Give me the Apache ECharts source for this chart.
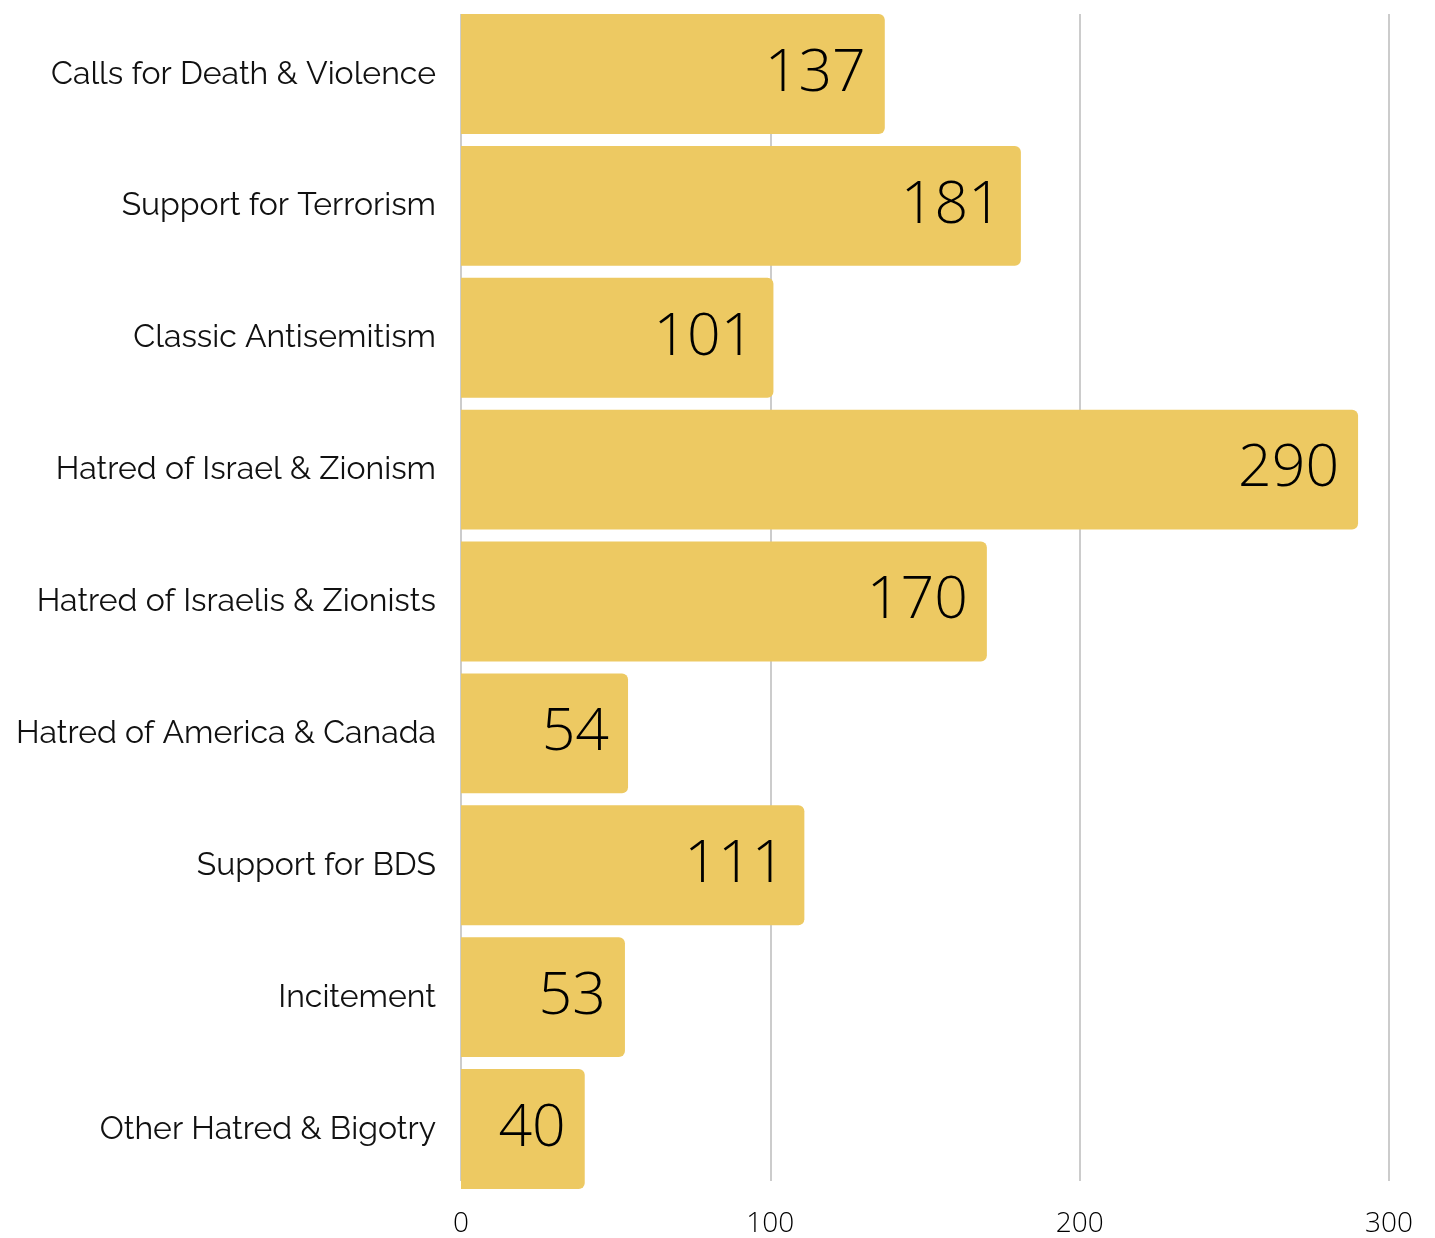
<!DOCTYPE html>
<html>
<head>
<meta charset="utf-8">
<script src="https://cdn.jsdelivr.net/npm/echarts@6/dist/echarts.min.js"></script>
<style>
html,body{margin:0;padding:0;background:#fff;}
#chart{width:1435px;height:1238px;}
</style>
</head>
<body>
<div id="chart"></div>
<script>
const categories = [
  "Calls for Death & Violence",
  "Support for Terrorism",
  "Classic Antisemitism",
  "Hatred of Israel & Zionism",
  "Hatred of Israelis & Zionists",
  "Hatred of America & Canada",
  "Support for BDS",
  "Incitement",
  "Other Hatred & Bigotry"
];
const values = [137, 181, 101, 290, 170, 54, 111, 53, 40];
const xTicks = [0, 100, 200, 300];

const chart = echarts.init(document.getElementById('chart'), null, {renderer: 'canvas'});
chart.setOption({
  animation: false,
  backgroundColor: '#ffffff',
  grid: [
    {left: 461, right: 46, top: 14, bottom: 49, containLabel: false, z: 0},
    {left: 461, right: 46, top: 8, bottom: 43, containLabel: false, z: 2}
  ],
  xAxis: [
    {
      gridIndex: 0,
      type: 'value',
      min: xTicks[0],
      max: xTicks[xTicks.length - 1],
      interval: 100,
      axisLine: {show: false},
      axisTick: {show: false},
      splitLine: {show: true, lineStyle: {color: '#cccccc', width: 2}},
      axisLabel: {
        fontFamily: 'Open Sans',
        fontWeight: 300,
        fontSize: 28,
        color: '#000',
        margin: 29
      }
    },
    {
      gridIndex: 1,
      type: 'value',
      min: xTicks[0],
      max: xTicks[xTicks.length - 1],
      interval: 100,
      show: false
    }
  ],
  yAxis: [
    {
      gridIndex: 0,
      type: 'category',
      data: categories,
      inverse: true,
      show: false
    },
    {
      gridIndex: 1,
      type: 'category',
      data: categories,
      inverse: true,
      axisLine: {show: false},
      axisTick: {show: false},
      axisLabel: {
        fontFamily: 'Raleway, Lato, "Open Sans", sans-serif',
        fontSize: 32,
        color: '#111',
        margin: 25
      }
    }
  ],
  series: [{
    type: 'bar',
    xAxisIndex: 1,
    yAxisIndex: 1,
    data: values,
    barCategoryGap: '9.1%',
    itemStyle: {color: '#EDC962', borderRadius: [0, 6, 6, 0]},
    label: {
      show: true,
      position: 'insideRight',
      distance: 19,
      fontFamily: 'Open Sans',
      fontWeight: 300,
      fontSize: 59,
      color: '#000'
    }
  }]
});
</script>
</body>
</html>
